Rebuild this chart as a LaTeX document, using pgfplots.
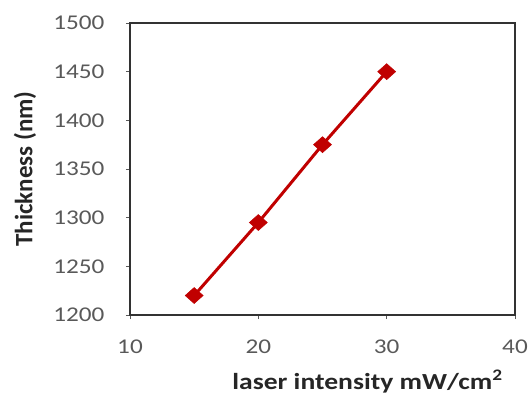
\documentclass[border=0pt]{standalone}
\usepackage{pgfplots}
\pgfplotsset{compat=1.18}
\usepackage{fontspec}
\setmainfont{Carlito}[FakeStretch=1.2]
\newfontfamily\ylabfont{Carlito}
\definecolor{dred}{RGB}{192,0,0}
\definecolor{tickgray}{RGB}{89,89,89}
\definecolor{axgray}{RGB}{50,50,50}
\begin{document}
\begin{tikzpicture}[x=1pt,y=1pt]
\begin{axis}[
  name=ax,
  scale only axis,
  width=385pt, height=292pt,
  xmin=10, xmax=40, ymin=1200, ymax=1500,
  xtick={10,20,30,40}, ytick={1200,1250,...,1500},
  axis line style={axgray, line width=1.8pt},
  tick style={tickgray, line width=0.6pt},
  tick align=outside, major tick length=4pt,
  xtick pos=bottom, ytick pos=left,
  ticklabel style={font=\fontsize{21}{24}\selectfont, text=tickgray},
  /pgf/number format/assume math mode=true,
  /pgf/number format/1000 sep={},
  xticklabel style={anchor=center, yshift=-28pt},
  yticklabel style={anchor=east, xshift=-18pt},
  xlabel={\fontsize{23}{26}\selectfont\bfseries laser intensity mW/cm\textsuperscript{2}},
  ylabel={\ylabfont\fontsize{25}{28}\selectfont\bfseries Thickness (nm)},
  label style={text=black!85},
  xlabel style={at={([xshift=45pt,yshift=-67pt]axis description cs:0.5,0)}, anchor=center},
  ylabel style={at={([xshift=-105pt]axis description cs:0,0.5)}, anchor=center},
]
\addplot[dred, line width=3pt, mark=diamond*, mark size=8pt, mark options={fill=dred, draw=dred, line width=0.5pt, xscale=1.5}]
  coordinates {(15,1220) (20,1295) (25,1375) (30,1450)};
\end{axis}
\pgfresetboundingbox
\path ([shift={(-130pt,-84pt)}]ax.south west) rectangle ([shift={(15pt,23pt)}]ax.north east);
\end{tikzpicture}
\end{document}
